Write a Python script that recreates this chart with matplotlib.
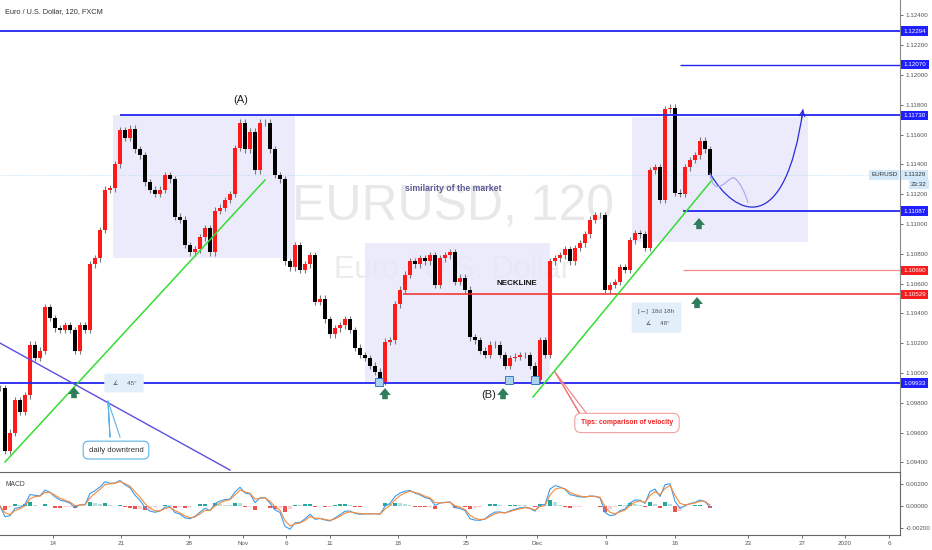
"""EURUSD 2h chart with drawings and MACD panel."""

import matplotlib
matplotlib.use("Agg")
import matplotlib.pyplot as plt
import numpy as np
import pandas as pd
from matplotlib.patches import Rectangle, PathPatch
from matplotlib.path import Path

plt.rcParams["font.family"] = ["Liberation Sans", "DejaVu Sans"]

TITLE = "Euro / U.S. Dollar, 120, FXCM"

# one candle per ~9h, closes
CLOSES = [
    1.0990, 1.0948, 1.0960, 1.0982, 1.0974, 1.0985, 1.1019, 1.1010, 1.1015, 1.1044,
    1.1037, 1.1030, 1.1029, 1.1032, 1.1029, 1.1015, 1.1032, 1.1029, 1.1073, 1.1077,
    1.1096, 1.1123, 1.1124, 1.1140, 1.1163, 1.1158, 1.1164, 1.1150, 1.1146, 1.1128,
    1.1123, 1.1120, 1.1123, 1.1133, 1.1130, 1.1105, 1.1103, 1.1086, 1.1081, 1.1083,
    1.1091, 1.1097, 1.1081, 1.1109, 1.1111, 1.1116, 1.1120, 1.1151, 1.1168, 1.1150,
    1.1162, 1.1136, 1.1168, 1.1168, 1.1150, 1.1133, 1.1130, 1.1075, 1.1071, 1.1086,
    1.1069, 1.1073, 1.1079, 1.1048, 1.1050, 1.1036, 1.1026, 1.1030, 1.1032, 1.1036,
    1.1029, 1.1017, 1.1012, 1.1010, 1.1005, 1.1001, 1.0994, 1.1021, 1.1022, 1.1046,
    1.1056, 1.1066, 1.1075, 1.1073, 1.1077, 1.1075, 1.1079, 1.1059, 1.1077, 1.1079,
    1.1081, 1.1061, 1.1064, 1.1056, 1.1024, 1.1022, 1.1015, 1.1012, 1.1019, 1.1019,
    1.1012, 1.1005, 1.1010, 1.1011, 1.1012, 1.1012, 1.1005, 1.0995, 1.1022, 1.1012,
    1.1075, 1.1077, 1.1079, 1.1083, 1.1075, 1.1084, 1.1087, 1.1093, 1.1103, 1.1106,
    1.1106, 1.1056, 1.1059, 1.1061, 1.1071, 1.1069, 1.1089, 1.1094, 1.1093, 1.1084,
    1.1136, 1.1138, 1.1116, 1.1177, 1.1178, 1.1121, 1.1120, 1.1138, 1.1143, 1.1146,
    1.1156, 1.1150, 1.11329,
]
LAST_PRICE = 1.11329

DATE_TICKS = [10.6, 24.2, 37.8, 48.6, 57.2, 66, 79.6, 93.2, 107.4, 121.2, 135, 149.6, 160.4, 169, 177.8]
DATE_LABELS = ["14", "21", "28", "Nov", "6", "11", "18", "25", "Dec", "9", "16", "23", "27", "2020", "6"]

PRICE_TICKS = [1.094, 1.096, 1.098, 1.100, 1.102, 1.104, 1.106, 1.108,
               1.110, 1.112, 1.114, 1.116, 1.118, 1.120, 1.122, 1.124]
MACD_TICKS = [-0.002, 0.0, 0.002]

# horizontal levels drawn on the chart
LEVELS = [1.12294, 1.12070, 1.11730, 1.11087, 1.10690, 1.10529, 1.09933]
LEVEL_START = [0, 136, 24, 136.6, 136.6, 80.6, 0]
LEVEL_COLORS = ["#2424ee", "#2424ee", "#2424ee", "#2424ee", "#f08c8c", "#f22a2a", "#2424ee"]
LEVEL_WIDTHS = [1.3, 1.0, 1.3, 1.3, 0.9, 1.1, 1.3]
LABEL_COLORS = ["#1f1fff", "#1f1fff", "#1f1fff", "#1f1fff", "#f51d1d", "#f51d1d", "#1f1fff"]

GREEN = "#33dd33"
ARROW_GREEN = "#2e7d5b"
BOX_FILL = "#e6e6fb"

fig = plt.figure(figsize=(9.32, 5.5), dpi=100)
ax = fig.add_axes([0, 78 / 550, 900 / 932, 472 / 550])
mx = fig.add_axes([0, 15 / 550, 900 / 932, 63 / 550])

closes = np.array(CLOSES)
opens = np.r_[closes[0], closes[:-1]]
x = np.arange(len(closes))
up = closes >= opens

# candles
pad = 0.00022
ax.vlines(x, np.minimum(opens, closes) - pad, np.maximum(opens, closes) + pad,
          color="#7a7a7a", lw=0.8, zorder=3)
ax.bar(x, closes - opens, bottom=opens, width=0.72,
       color=np.where(up, "#ff1a1a", "#000000"), zorder=4)

# watermark
ax.text(90.6, 1.1111, "EURUSD, 120", fontsize=36, color="#e8e8e8", ha="center", va="center",
        zorder=0)
ax.text(90.4, 1.1069, "Euro / U.S. Dollar", fontsize=22, color="#ececec", ha="center", va="center",
        zorder=0)

# boxes
for x0, x1, y0, y1 in [(22.6, 59, 1.10772, 1.11731), (73, 110, 1.09933, 1.10873),
                       (126.4, 161.6, 1.10879, 1.11718)]:
    ax.add_patch(Rectangle((x0, y0), x1 - x0, y1 - y0, fc=BOX_FILL, ec="none", alpha=0.8, zorder=1))

# levels
for price, start, color, lw in zip(LEVELS, LEVEL_START, LEVEL_COLORS, LEVEL_WIDTHS):
    ax.hlines(price, start, 180, color=color, lw=lw, zorder=5)
ax.axhline(LAST_PRICE, color="#a9d2f2", lw=0.6, ls=(0, (1, 2)), zorder=2)

# trend lines
ax.plot([1, 53], [1.09403, 1.11295], color=GREEN, lw=1.1, zorder=5)
ax.plot([106.6, 142.4], [1.09839, 1.11295], color=GREEN, lw=1.1, zorder=5)
ax.plot([0, 46], [1.10201, 1.09349], color="#5a4fe0", lw=1.0, zorder=5)

# projected path
proj = Path([(142, 1.1134), (147, 1.1105), (157, 1.1090), (160.6, 1.1177)],
            [Path.MOVETO, Path.CURVE4, Path.CURVE4, Path.CURVE4])
ax.add_patch(PathPatch(proj, fc="none", ec="#2b2bd9", lw=0.9, zorder=5))
ax.annotate("", xy=(160.6, 1.1177), xytext=(160.3, 1.11705),
            arrowprops=dict(arrowstyle="->", color="#2b2bd9", lw=0.9, shrinkA=0, shrinkB=0))
wave = Path([(142, 1.1134), (142.8, 1.1116), (145.6, 1.1131), (146.6, 1.1131),
             (147.6, 1.1131), (149.2, 1.1120), (149.6, 1.1114)],
            [Path.MOVETO, Path.CURVE4, Path.CURVE4, Path.CURVE4,
             Path.CURVE4, Path.CURVE4, Path.CURVE4])
ax.add_patch(PathPatch(wave, fc="none", ec="#a5a5f2", lw=0.8, zorder=5))

# up arrows
for ax_x, ax_y in [(14.8, 1.09906), (77, 1.09899), (100.6, 1.09899), (139.8, 1.11040), (139.4, 1.10510)]:
    ax.annotate("", xy=(ax_x, ax_y), xytext=(0, -8), textcoords="offset points",
                arrowprops=dict(arrowstyle="simple,head_width=0.85,head_length=0.5,tail_width=0.4",
                                fc=ARROW_GREEN, ec="none", shrinkA=0, shrinkB=0), zorder=6)

# touch markers
ax.plot([75.8, 101.8, 107], [1.0994, 1.0995, 1.0995], ls="none", marker="s", ms=6,
        mfc="#a8d3f3", mec="#3b7cc0", mew=0.7, zorder=6)

# labels
ax.text(48.2, 1.1183, "(A)", fontsize=8, color="#222", ha="center", va="center", zorder=7)
ax.text(97.7, 1.09853, "(B)", fontsize=8, color="#222", ha="center", va="center", zorder=7)
ax.text(90.6, 1.11235, "similarity of the market", fontsize=6.3, color="#5a5a96",
        fontweight="bold", ha="center", va="center", zorder=7)
ax.text(103.4, 1.10604, "NECKLINE", fontsize=5.8, color="#111", fontweight="bold",
        ha="center", va="center", zorder=7)

# measure boxes
ax.text(131.3, 1.10372, "[↔]  18d 18h\n\n ∡     48°", fontsize=4.5, color="#555", ha="center",
        va="center", linespacing=1.2, zorder=7,
        bbox=dict(boxstyle="round,pad=1.1,rounding_size=0.3", fc="#e2effb", ec="none"))
ax.text(24.8, 1.09933, " ∡     45°", fontsize=4.5, color="#555", ha="center", va="center", zorder=7,
        bbox=dict(boxstyle="round,pad=1.1,rounding_size=0.3", fc="#e2effb", ec="none"))

# callouts
ax.plot([21.6, 22, 21.6, 24], [1.09812, 1.09571, 1.09812, 1.09571], color="#5ab4e8", lw=0.8, zorder=6)
ax.text(23.2, 1.09483, "daily downtrend", fontsize=5.6, color="#333", ha="center", va="center", zorder=7,
        bbox=dict(boxstyle="round,pad=0.7", fc="white", ec="#5ab4e8", lw=0.8))
ax.plot([111, 116, 111, 117.4], [1.10007, 1.09725, 1.10007, 1.09725], color="#f08080", lw=0.8, zorder=6)
ax.text(125.4, 1.09665, "Tips: comparison of velocity", fontsize=4.9, color="#f02020",
        fontweight="bold", ha="center", va="center", zorder=7,
        bbox=dict(boxstyle="round,pad=0.9", fc="white", ec="#f4a0a0", lw=0.8))

# axes styling
ax.set_xlim(0, 180)
ax.set_ylim(1.09336, 1.12503)
ax.yaxis.tick_right()
ax.set_yticks(PRICE_TICKS)
ax.set_yticklabels([f"{p:.5f}" for p in PRICE_TICKS])
ax.tick_params(axis="y", labelsize=4.5, colors="#555", length=2, pad=2, width=0.6)
ax.set_xticks([])
for side in ["top", "left", "bottom"]:
    ax.spines[side].set_visible(False)
ax.spines["right"].set_color("#888")
ax.spines["right"].set_linewidth(0.8)

yt = ax.get_yaxis_transform()
for price, color in zip(LEVELS, LABEL_COLORS):
    ax.text(1.004, price, f"{price:.5f}", transform=yt, fontsize=4.5, color="white", va="center",
            ha="left", clip_on=False, zorder=8,
            bbox=dict(boxstyle="square,pad=0.35", fc=color, ec="none"))
ax.text(1.004, LAST_PRICE, f"{LAST_PRICE:.5f}", transform=yt, fontsize=4.5, color="#333",
        va="center", ha="left", clip_on=False, zorder=8,
        bbox=dict(boxstyle="square,pad=0.35", fc="#d3e9fa", ec="none"))
ax.text(0.997, LAST_PRICE, "EURUSD", transform=yt, fontsize=4.5, color="#333", va="center",
        ha="right", clip_on=False, zorder=8,
        bbox=dict(boxstyle="square,pad=0.35", fc="#d3e9fa", ec="none"))
ax.text(1.012, 1.11265, "23:32", transform=yt, fontsize=4.5, color="#333", va="center",
        ha="left", clip_on=False, zorder=8,
        bbox=dict(boxstyle="square,pad=0.35", fc="#d3e9fa", ec="none"))

fig.text(0.005, 1 - 12 / 550, TITLE, fontsize=5.3, color="#333", va="center")

# MACD panel
s = pd.Series(CLOSES)
fast = s.ewm(alpha=0.52, adjust=False).mean()
slow = s.ewm(alpha=0.287, adjust=False).mean()
macd = fast - slow
signal = macd.ewm(alpha=0.625, adjust=False).mean()
hist = (macd - signal).to_numpy()
prev = np.r_[0, hist[:-1]]
hcol = np.where(hist >= 0, np.where(hist >= prev, "#26a69a", "#b2dfdb"),
                np.where(hist < prev, "#ef5350", "#ffcdd2"))
mx.bar(x, hist, width=0.8, color=hcol, zorder=2)
mx.plot(x, macd, color="#3d9be9", lw=0.8, zorder=3)
mx.plot(x, signal, color="#f7893b", lw=0.8, zorder=3)
mx.text(0.006, 0.8, "MACD", transform=mx.transAxes, fontsize=4.9, color="#444", va="center")

mx.set_xlim(0, 180)
mx.set_ylim(-0.00264, 0.00309)
mx.yaxis.tick_right()
mx.set_yticks(MACD_TICKS)
mx.set_yticklabels(["-0.00200", "0.00000", "0.00200"])
mx.tick_params(axis="y", labelsize=4.5, colors="#555", length=2, pad=2, width=0.6)
mx.set_xticks(DATE_TICKS)
mx.set_xticklabels(DATE_LABELS)
mx.tick_params(axis="x", labelsize=4.5, colors="#555", length=2, pad=2, width=0.6)
mx.spines["left"].set_visible(False)
for side in ["top", "bottom", "right"]:
    mx.spines[side].set_color("#666")
    mx.spines[side].set_linewidth(0.8)

fig.savefig("out.png", dpi=100)
